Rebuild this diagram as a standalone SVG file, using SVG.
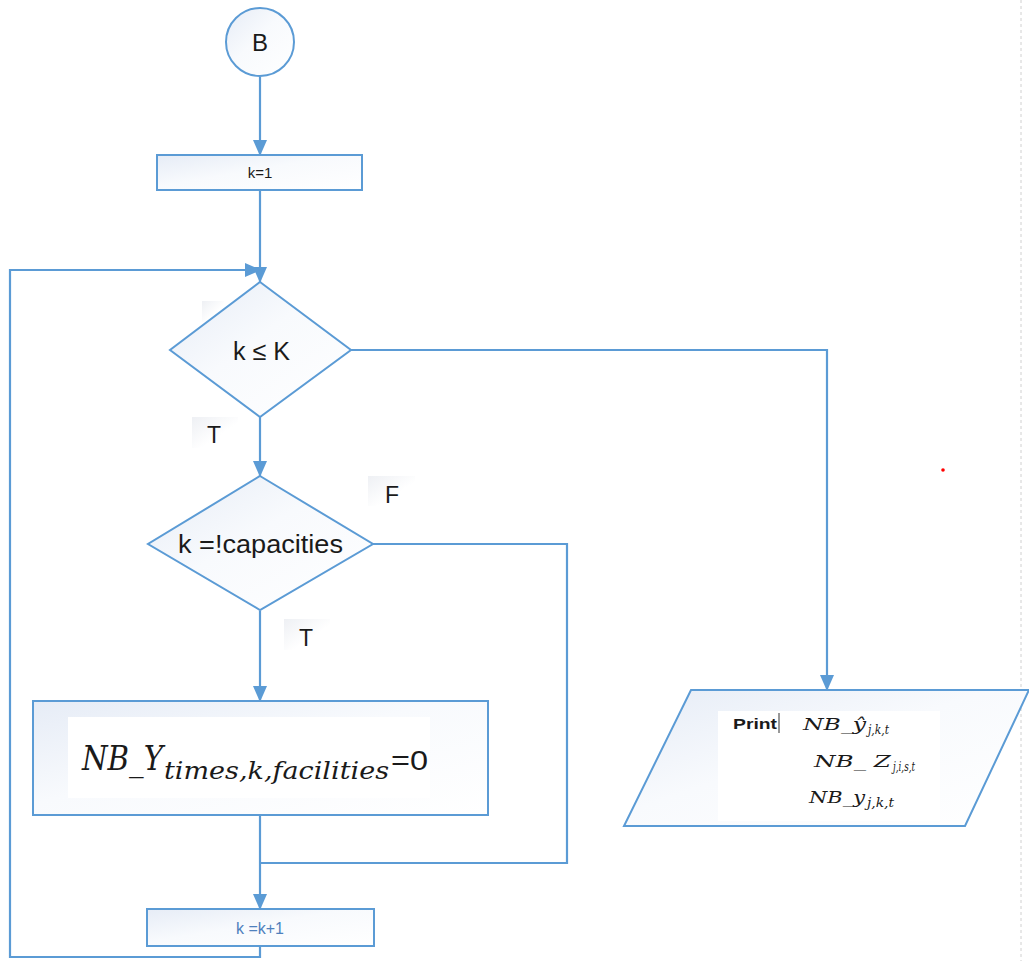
<svg xmlns="http://www.w3.org/2000/svg" width="1029" height="961" viewBox="0 0 1029 961">
  <style>
    .shape { fill: url(#softFill); stroke: #5b9bd5; stroke-width: 2; }
    .wire { fill: none; stroke: #5b9bd5; stroke-width: 2.2; }
    .label { font-family: "Liberation Sans", "Open Sans", sans-serif; fill: #1a1a1a; }
    .math { font-family: "DejaVu Serif", "Liberation Serif", serif; font-style: italic; fill: #1a1a1a; }
  </style>
  <defs>
    <linearGradient id="softFill" x1="0" y1="0" x2="1" y2="1">
      <stop offset="0" stop-color="#e6ecf6"/>
      <stop offset="0.45" stop-color="#f8fafd"/>
      <stop offset="1" stop-color="#ffffff"/>
    </linearGradient>
    <linearGradient id="tagFill" x1="0" y1="0" x2="1" y2="1">
      <stop offset="0" stop-color="#eef0f4"/>
      <stop offset="0.6" stop-color="#ffffff"/>
    </linearGradient>
    <marker id="arrow" markerWidth="16" markerHeight="14" refX="15" refY="7" orient="auto" markerUnits="userSpaceOnUse">
      <path d="M0,0 L16,7 L0,14 Z" fill="#5b9bd5"/>
    </marker>
  </defs>

  <rect width="1029" height="961" fill="#ffffff"/>
  <!-- page edge -->
  <line x1="1021" y1="0" x2="1021" y2="961" stroke="#d0d0d0" stroke-width="1" stroke-dasharray="3,3"/>
  <circle cx="943" cy="470" r="1.8" fill="#ff0000"/>

  <g id="connectors">
    <line class="wire" x1="260" y1="77" x2="260" y2="155" marker-end="url(#arrow)"/>
    <line class="wire" x1="260" y1="190" x2="260" y2="282" marker-end="url(#arrow)"/>
    <polyline class="wire" points="260,946 260,957 10,957 10,270 260,270" marker-end="url(#arrow)"/>
    <polyline class="wire" points="351,350 827,350 827,690" marker-end="url(#arrow)"/>
    <line class="wire" x1="260" y1="417" x2="260" y2="476" marker-end="url(#arrow)"/>
    <polyline class="wire" points="373,544 567,544 567,863 260,863"/>
    <line class="wire" x1="260" y1="611" x2="260" y2="701" marker-end="url(#arrow)"/>
    <line class="wire" x1="260" y1="815" x2="260" y2="909" marker-end="url(#arrow)"/>
  </g>

  <g id="start-B">
    <circle class="shape" cx="260" cy="42" r="34"/>
    <text class="label" x="260" y="51" font-size="24" text-anchor="middle">B</text>
  </g>

  <g id="init-k">
    <rect class="shape" x="157" y="155" width="205" height="35"/>
    <text class="label" x="260" y="178" font-size="15" text-anchor="middle">k=1</text>
  </g>

  <g id="check-k">
    <rect x="202" y="301" width="22" height="21" fill="url(#tagFill)"/>
    <polygon class="shape" points="260,282 351,350 260,417 170,350"/>
    <text class="label" x="233" y="360" font-size="26" textLength="57" lengthAdjust="spacingAndGlyphs">k ≤ K</text>
  </g>

  <g id="label-T1">
    <rect x="192" y="417" width="46" height="31" fill="url(#tagFill)"/>
    <text class="label" x="214" y="443" font-size="23" text-anchor="middle">T</text>
  </g>

  <g id="check-capacities">
    <polygon class="shape" points="260,476 373,544 260,610 148,544"/>
    <text class="label" x="178" y="553" font-size="25" textLength="165" lengthAdjust="spacingAndGlyphs">k =!capacities</text>
  </g>

  <g id="label-F">
    <rect x="368" y="476" width="47" height="30" fill="url(#tagFill)"/>
    <text class="label" x="392" y="503" font-size="23" text-anchor="middle">F</text>
  </g>

  <g id="label-T2">
    <rect x="284" y="619" width="46" height="31" fill="url(#tagFill)"/>
    <text class="label" x="306" y="646" font-size="23" text-anchor="middle">T</text>
  </g>

  <g id="reset-Y">
    <rect class="shape" x="33" y="701" width="455" height="114"/>
    <rect x="68" y="717" width="362" height="81" fill="#ffffff"/>
    <text class="math" x="82" y="770" font-size="34" textLength="81" lengthAdjust="spacingAndGlyphs">NB_Y</text>
    <text class="math" x="164" y="779" font-size="25" textLength="225" lengthAdjust="spacingAndGlyphs">times,k,facilities</text>
    <text class="label" x="391" y="770" font-size="27" textLength="37" lengthAdjust="spacingAndGlyphs">=0</text>
  </g>

  <g id="increment-k">
    <rect class="shape" x="147" y="909" width="227" height="37"/>
    <text x="260" y="934" font-size="16" text-anchor="middle" font-family="Liberation Sans, sans-serif" fill="#4f81bd">k =k+1</text>
  </g>

  <g id="print-output">
    <polygon class="shape" points="691,690 1029,690 965,826 624,826"/>
    <rect x="718" y="711" width="222" height="110" fill="#ffffff"/>
    <text class="label" x="733" y="729" font-size="15" font-weight="bold" textLength="44" lengthAdjust="spacingAndGlyphs">Print</text>
    <line x1="779" y1="713" x2="779" y2="733" stroke="#333" stroke-width="1"/>
    <text class="math" x="803" y="730" font-size="17" textLength="63" lengthAdjust="spacingAndGlyphs">NB_ŷ</text>
    <text class="math" x="868" y="734" font-size="12" textLength="21" lengthAdjust="spacingAndGlyphs">j,k,t</text>
    <text class="math" x="814" y="767" font-size="17" textLength="77" lengthAdjust="spacingAndGlyphs">NB_ Z</text>
    <text class="math" x="893" y="771" font-size="12" textLength="22" lengthAdjust="spacingAndGlyphs">j,i,s,t</text>
    <text class="math" x="809" y="803" font-size="17" textLength="56" lengthAdjust="spacingAndGlyphs">NB_y</text>
    <text class="math" x="867" y="807" font-size="12" textLength="27" lengthAdjust="spacingAndGlyphs">j,k,t</text>
  </g>
</svg>
